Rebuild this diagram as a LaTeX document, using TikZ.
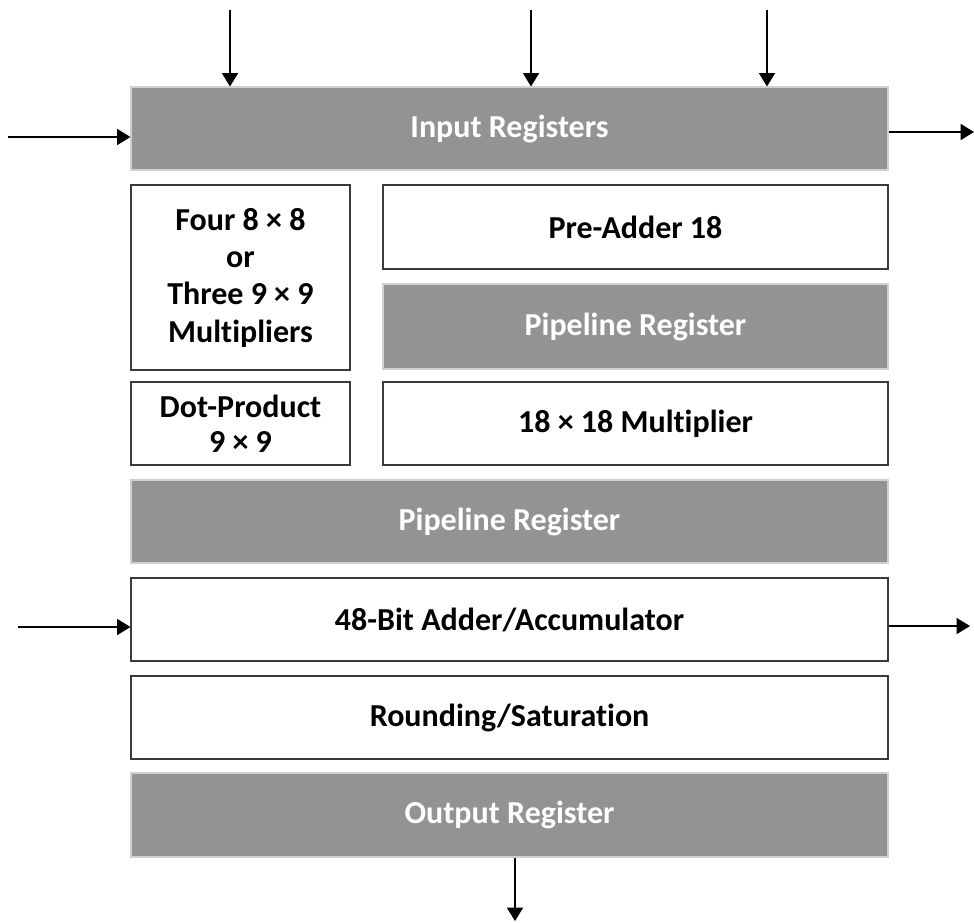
\documentclass[tikz,border=0pt]{standalone}
\usepackage{fontspec}
\setmainfont{Carlito}[RawFeature={-liga;-clig;-dlig}]
\usetikzlibrary{arrows.meta}
\definecolor{grayfill}{HTML}{939393}
\definecolor{grayline}{HTML}{D0D0D0}
\definecolor{boxline}{HTML}{3A3A3A}
\tikzset{
  base/.style={rectangle, inner sep=0pt, align=center, font=\fontsize{24}{26.5}\selectfont\bfseries},
  graybox/.style={base, fill=grayfill, draw=grayline, line width=0.8pt, text=white},
  whitebox/.style={base, fill=white, draw=boxline, line width=0.8pt, text=black},
  arr/.style={-{Triangle[length=10pt,width=12pt]}, line width=1.1pt, black},
}
\begin{document}
\begin{tikzpicture}[x=0.75pt,y=-0.75pt]
\useasboundingbox (0,0) rectangle (974,922);
\node[graybox, minimum width=757*0.75pt, minimum height=83*0.75pt] (inreg) at (509.5,128.5) {Input Registers};
\node[whitebox, font=\fontsize{24}{28}\selectfont\bfseries, minimum width=219*0.75pt, minimum height=185*0.75pt] (mults) at (240.5,277.5) {Four 8 × 8\\or\\Three 9 × 9\\Multipliers};
\node[whitebox, minimum width=505*0.75pt, minimum height=84*0.75pt] (preadd) at (635.5,227) {Pre-Adder 18};
\node[graybox, minimum width=505*0.75pt, minimum height=85*0.75pt] (pipe1) at (635.5,326.5) {Pipeline Register};
\node[whitebox, minimum width=219*0.75pt, minimum height=83*0.75pt] (dot) at (240.5,423.5) {Dot-Product\\9 × 9};
\node[whitebox, minimum width=505*0.75pt, minimum height=83*0.75pt] (mult18) at (635.5,423.5) {18 × 18 Multiplier};
\node[graybox, minimum width=757*0.75pt, minimum height=83*0.75pt] (pipe2) at (509.5,521.5) {Pipeline Register};
\node[whitebox, minimum width=757*0.75pt, minimum height=83*0.75pt] (adder) at (509.5,619.5) {48-Bit Adder/Accumulator};
\node[whitebox, minimum width=757*0.75pt, minimum height=83*0.75pt] (round) at (509.5,717.5) {Rounding/Saturation};
\node[graybox, minimum width=757*0.75pt, minimum height=84*0.75pt] (outreg) at (509.5,815) {Output Register};
% free ends
\coordinate (t1) at (230,10);
\coordinate (t2) at (531,10);
\coordinate (t3) at (767,10);
\coordinate (l1) at (8,137);
\coordinate (r1) at (974,132);
\coordinate (l2) at (18,627);
\coordinate (r2) at (970,626);
\coordinate (b1) at (515,921);
\draw[arr] (t1) -- (t1 |- inreg.north);
\draw[arr] (t2) -- (t2 |- inreg.north);
\draw[arr] (t3) -- (t3 |- inreg.north);
\draw[arr] (l1) -- (l1 -| inreg.west);
\draw[arr] (r1 -| inreg.east) -- (r1);
\draw[arr] (l2) -- (l2 -| adder.west);
\draw[arr] (r2 -| adder.east) -- (r2);
\draw[arr] (b1 |- outreg.south) -- (b1);
\end{tikzpicture}
\end{document}
